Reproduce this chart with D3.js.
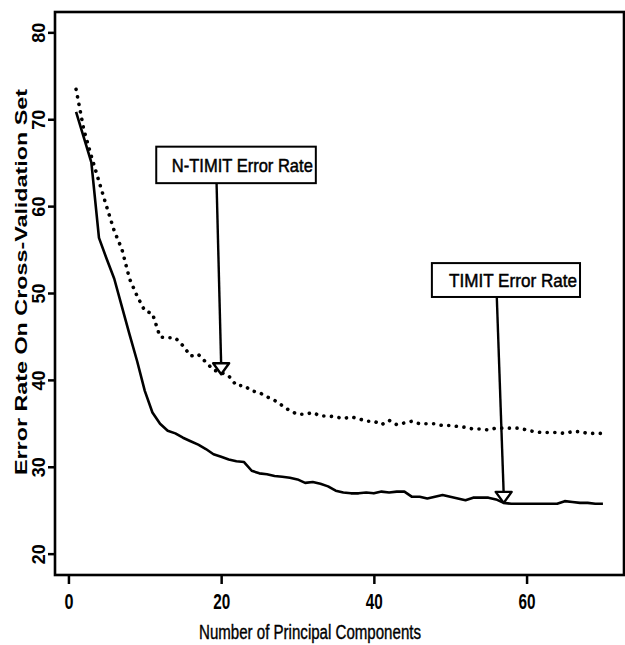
<!DOCTYPE html>
<html>
<head>
<meta charset="utf-8">
<script src="https://cdn.jsdelivr.net/npm/d3@7"></script>
<style>
  body { margin: 0; background: #fff; }
  text { fill: #000; }
</style>
</head>
<body>
<div id="chart"></div>
<script>
var width  = 625;
var height = 645;

// Number of principal components, 1..70
var components = d3.range(1, 71);

// Error rate on cross-validation set, TIMIT (solid line)
var timitError = [
  70.9, 68.0, 65.1, 56.4, 54.0, 51.7, 48.5, 45.3, 42.2, 38.8,
  36.3, 35.0, 34.2, 33.9, 33.4, 33.0, 32.6, 32.1, 31.5, 31.2,
  30.9, 30.7, 30.6, 29.6, 29.3, 29.2, 29.0, 28.9, 28.8, 28.6,
  28.2, 28.3, 28.1, 27.8, 27.3, 27.1, 27.0, 27.0, 27.1, 27.0,
  27.2, 27.1, 27.2, 27.2, 26.6, 26.6, 26.4, 26.6, 26.8, 26.6,
  26.4, 26.2, 26.5, 26.5, 26.5, 26.3, 25.9, 25.8, 25.8, 25.8,
  25.8, 25.8, 25.8, 25.8, 26.1, 26.0, 25.9, 25.9, 25.8, 25.8
];

// Error rate on cross-validation set, N-TIMIT (dotted line)
var ntimitError = [
  73.5, 68.9, 65.8, 62.9, 60.0, 57.2, 55.1, 51.7, 49.7, 48.0,
  47.7, 45.0, 44.9, 44.9, 44.0, 42.8, 43.0, 42.1, 41.2, 40.9,
  40.5, 39.4, 39.4, 38.8, 38.6, 38.1, 37.7, 37.1, 36.5, 36.1,
  36.1, 36.3, 35.9, 35.9, 35.8, 35.6, 35.8, 35.6, 35.3, 35.3,
  34.9, 35.4, 34.9, 35.1, 35.3, 35.0, 35.0, 35.0, 34.8, 34.8,
  34.7, 34.6, 34.4, 34.4, 34.3, 34.5, 34.5, 34.5, 34.5, 34.3,
  34.1, 34.0, 34.0, 34.0, 33.9, 34.1, 34.1, 33.9, 33.9, 33.9
];

var xTicks = [0, 20, 40, 60];
var yTicks = [20, 30, 40, 50, 60, 70, 80];

// Callout boxes (in data units): label, box extent, arrow start and tip
var annotations = [
  { label: "N-TIMIT Error Rate", x0: 11.5, x1: 32.4, y0: 62.7, y1: 66.9,
    fromX: 19.4, tipX: 20.0, tipY: 40.7 },
  { label: "TIMIT Error Rate", x0: 47.6, x1: 67.0, y0: 49.6, y1: 53.5,
    fromX: 56.1, tipX: 57.0, tipY: 25.9 }
];

var x = d3.scaleLinear().domain([-1.76, 72.76]).range([55, 624]);
var y = d3.scaleLinear().domain([17.6, 82.4]).range([575, 12]);

var svg = d3.select('#chart')
  .append('svg')
  .attr('width', width)
  .attr('height', height)
  .style('font-family', '"Liberation Sans", Arial, Helvetica, sans-serif');

// Axes
var xAxis = d3.axisBottom(x).tickValues(xTicks).tickSize(9).tickFormat(d3.format('d'));
var yAxis = d3.axisLeft(y).tickValues(yTicks).tickSize(7).tickFormat(d3.format('d'));

var gx = svg.append('g')
  .attr('transform', 'translate(0,575)')
  .call(xAxis);
gx.select('.domain').remove();
gx.selectAll('line').attr('stroke', '#000').attr('stroke-width', 2.5);
gx.selectAll('text')
  .attr('y', 26)
  .attr('dy', '0.35em')
  .attr('textLength', function(d) { return d < 10 ? 9 : 17; })
  .attr('lengthAdjust', 'spacingAndGlyphs')
  .style('font-size', '22px')
  .style('font-weight', 'bold');

var gy = svg.append('g')
  .attr('transform', 'translate(55,0)')
  .call(yAxis);
gy.select('.domain').remove();
gy.selectAll('line').attr('stroke', '#000').attr('stroke-width', 2.5);
gy.selectAll('text')
  .attr('x', 0).attr('dy', 0)
  .attr('text-anchor', 'middle')
  .attr('transform', function(d) { return 'translate(-10,' + y(d) + ')rotate(-90)'; })
  .style('font-size', '18px')
  .style('font-weight', 'bold');
gy.selectAll('.tick').attr('transform', null);
gy.selectAll('.tick line')
  .attr('y1', function(d) { return y(d); })
  .attr('y2', function(d) { return y(d); });

// Plot frame
svg.append('rect')
  .attr('x', x.range()[0]).attr('y', y.range()[1])
  .attr('width', x.range()[1] - x.range()[0])
  .attr('height', y.range()[0] - y.range()[1])
  .attr('fill', 'none')
  .attr('stroke', '#000')
  .attr('stroke-width', 2.6);

// Axis titles
svg.append('text')
  .attr('x', 310)
  .attr('y', 632)
  .attr('text-anchor', 'middle')
  .attr('dy', '0.35em')
  .attr('textLength', 222)
  .attr('lengthAdjust', 'spacingAndGlyphs')
  .attr('stroke', '#000')
  .attr('stroke-width', 0.4)
  .style('font-size', '20px')
  .text('Number of Principal Components');

svg.append('text')
  .attr('transform', 'translate(21,282)rotate(-90)')
  .attr('text-anchor', 'middle')
  .attr('dy', '0.35em')
  .attr('textLength', 386)
  .attr('lengthAdjust', 'spacingAndGlyphs')
  .style('font-size', '17px')
  .style('font-weight', 'bold')
  .text('Error Rate On Cross-Validation Set');

// Lines
var line = d3.line()
  .x(function(d) { return x(d[0]); })
  .y(function(d) { return y(d[1]); });

svg.append('path')
  .datum(d3.zip(components, timitError))
  .attr('d', line)
  .attr('fill', 'none')
  .attr('stroke', '#000')
  .attr('stroke-width', 2.6)
  .attr('stroke-linejoin', 'round');

svg.append('path')
  .datum(d3.zip(components, ntimitError))
  .attr('d', line)
  .attr('fill', 'none')
  .attr('stroke', '#000')
  .attr('stroke-width', 3.6)
  .attr('stroke-linecap', 'round')
  .attr('stroke-dasharray', '0.1 7.55');

// Callouts
var callout = svg.selectAll('.callout')
  .data(annotations)
  .enter()
  .append('g')
  .attr('class', 'callout');

callout.append('line')
  .attr('x1', function(d) { return x(d.fromX); })
  .attr('y1', function(d) { return y(d.y0); })
  .attr('x2', function(d) { return x(d.tipX); })
  .attr('y2', function(d) { return y(d.tipY) - 10; })
  .attr('stroke', '#000')
  .attr('stroke-width', 2.4);

callout.append('path')
  .attr('d', function(d) {
    var tx = x(d.tipX), ty = y(d.tipY);
    return 'M' + tx + ',' + ty + 'L' + (tx - 8) + ',' + (ty - 11) +
           'L' + (tx + 8) + ',' + (ty - 11) + 'Z';
  })
  .attr('fill', '#fff')
  .attr('stroke', '#000')
  .attr('stroke-width', 2.4)
  .attr('stroke-linejoin', 'round');

callout.append('rect')
  .attr('x', function(d) { return x(d.x0); })
  .attr('y', function(d) { return y(d.y1); })
  .attr('width', function(d) { return x(d.x1) - x(d.x0); })
  .attr('height', function(d) { return y(d.y0) - y(d.y1); })
  .attr('fill', '#fff')
  .attr('stroke', '#000')
  .attr('stroke-width', 2);

callout.append('text')
  .attr('x', function(d) { return x(d.x1) - 3; })
  .attr('y', function(d) { return (y(d.y0) + y(d.y1)) / 2; })
  .attr('dy', '0.36em')
  .attr('text-anchor', 'end')
  .attr('textLength', function(d) { return d.label.length > 16 ? 141 : 128; })
  .attr('lengthAdjust', 'spacingAndGlyphs')
  .attr('stroke', '#000')
  .attr('stroke-width', 0.5)
  .style('font-size', '19px')
  .text(function(d) { return d.label; });
</script>
</body>
</html>
